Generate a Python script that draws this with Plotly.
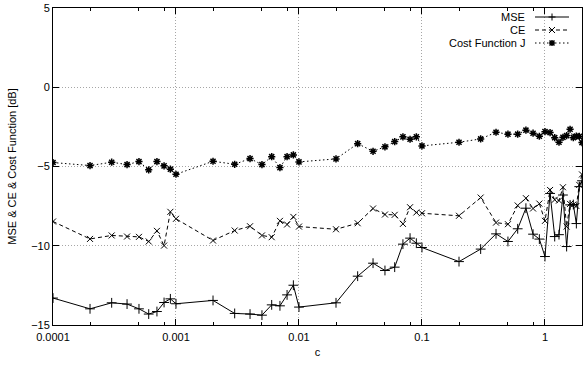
import plotly.graph_objects as go

# Sweep of the parameter c (log-spaced measurement points)
c_values = [
    0.0001, 0.0002, 0.0003, 0.0004, 0.0005, 0.0006, 0.0007, 0.0008, 0.0009,
    0.001, 0.002, 0.003, 0.004, 0.005, 0.006, 0.007, 0.008, 0.009,
    0.01, 0.02, 0.03, 0.04, 0.05, 0.06, 0.07, 0.08, 0.09,
    0.1, 0.2, 0.3, 0.4, 0.5, 0.6, 0.7, 0.8, 0.9,
    1.0, 1.1, 1.2, 1.3, 1.4, 1.5, 1.6, 1.7, 1.8, 1.9, 2.0,
]

mse_db = [
    -13.30, -13.98, -13.60, -13.68, -13.98, -14.31, -14.15, -13.58, -13.35,
    -13.66, -13.45, -14.27, -14.31, -14.38, -13.73, -13.79, -13.10, -12.49,
    -13.87, -13.60, -11.92, -11.10, -11.56, -11.35, -9.90, -9.52, -9.84,
    -10.11, -11.00, -10.21, -9.25, -9.73, -8.93, -7.63, -9.27, -9.58,
    -10.68, -6.70, -9.42, -9.30, -6.80, -10.05, -7.42, -7.40, -8.60, -6.27, -5.90,
]

ce_db = [
    -8.47, -9.57, -9.35, -9.42, -9.44, -9.73, -9.06, -9.99, -7.86,
    -8.30, -9.67, -9.04, -8.77, -9.35, -9.46, -8.43, -8.66, -8.18,
    -8.79, -8.96, -8.58, -7.65, -8.03, -8.05, -8.62, -7.57, -7.90,
    -7.95, -8.11, -6.96, -8.54, -8.64, -7.46, -7.00, -7.65, -7.34,
    -8.43, -6.48, -7.10, -7.15, -6.31, -8.79, -7.36, -7.40, -7.49, -6.16, -5.50,
]

cost_j_db = [
    -4.75, -4.94, -4.73, -4.88, -4.69, -5.21, -4.69, -4.96, -5.17,
    -5.49, -4.67, -4.86, -4.50, -4.88, -4.38, -5.07, -4.38, -4.27,
    -4.71, -4.52, -3.56, -4.04, -3.76, -3.43, -3.13, -3.28, -3.13,
    -3.70, -3.47, -3.26, -2.84, -2.96, -2.96, -2.71, -2.90, -3.09,
    -2.80, -2.86, -3.18, -3.47, -3.16, -3.05, -2.65, -3.18, -3.08, -3.10, -3.49,
]

x_major = [0.0001, 0.001, 0.01, 0.1, 1]
x_major_text = ["0.0001", "0.001", "0.01", "0.1", "1"]
x_minor = [0.0002, 0.0005, 0.0008, 0.002, 0.005, 0.008, 0.02, 0.05, 0.08,
           0.2, 0.5, 0.8, 2]
y_major = [-15, -10, -5, 0, 5]

series = [
    ("MSE", mse_db, "solid", "cross-thin", 1.0, 7),
    ("CE", ce_db, "4px,3px", "x-thin", 1.0, 6),
    ("Cost Function J", cost_j_db, "1.5px,2.5px", "asterisk", 1.5, 6),
]

FONT = "Liberation Sans, Arial, sans-serif"

fig = go.Figure()
for name, vals, dash, symbol, mw, ms in series:
    fig.add_trace(go.Scatter(
        x=c_values, y=vals, name=name, mode="lines+markers",
        line=dict(color="black", width=1, dash=dash),
        marker=dict(symbol=symbol, size=ms, color="black",
                    line=dict(color="black", width=mw)),
        showlegend=False,
    ))

# Plot-area geometry in pixels, used to place the key in paper units
L, R, T, B = 53, 582, 8, 325


def px_x(px):
    return (px - L) / (R - L)


def px_y(py):
    return (B - py) / (B - T)


# Key: label on the left, line sample with its point glyph on the right
glyph_paths = {
    "cross-thin": "M-3.5,0 L3.5,0 M0,-3.5 L0,3.5",
    "x-thin": "M-3,-3 L3,3 M-3,3 L3,-3",
    "asterisk": "M-3,0 L3,0 M0,-3 L0,3 M-2.5,-2.5 L2.5,2.5 M-2.5,2.5 L2.5,-2.5",
}
shapes = []
annotations = []
row_px = [17, 30, 43]
for (name, _, dash, symbol, mw, ms), ry in zip(series, row_px):
    annotations.append(dict(
        x=px_x(527), y=px_y(ry), xref="paper", yref="paper",
        text=name, showarrow=False, xanchor="right", yanchor="middle",
        font=dict(family=FONT, size=11, color="black"),
    ))
    shapes.append(dict(
        type="line", xref="paper", yref="paper",
        x0=px_x(535), x1=px_x(569), y0=px_y(ry), y1=px_y(ry),
        line=dict(color="black", width=1, dash=dash),
    ))
    shapes.append(dict(
        type="path", xref="paper", yref="paper",
        xsizemode="pixel", ysizemode="pixel",
        xanchor=px_x(552), yanchor=px_y(ry),
        path=glyph_paths[symbol],
        line=dict(color="black", width=mw),
    ))

grid = dict(showgrid=True, gridcolor="#a6a6a6", gridwidth=1,
            griddash="1px,2px")

fig.update_layout(
    width=583, height=365,
    margin=dict(l=L, r=583 - R, t=T, b=365 - B),
    paper_bgcolor="white", plot_bgcolor="white",
    font=dict(family=FONT, size=11, color="black"),
    shapes=shapes, annotations=annotations,
    xaxis=dict(
        type="log", range=[-4, 0.30103],
        tickmode="array", tickvals=x_major, ticktext=x_major_text,
        ticks="inside", ticklen=6, tickcolor="black",
        ticklabelstandoff=2,
        minor=dict(tickvals=x_minor, ticks="inside", ticklen=3,
                   tickcolor="black", showgrid=False),
        showline=True, linecolor="black", linewidth=1, mirror="allticks",
        title=dict(text="c", standoff=6, font=dict(size=11)),
        zeroline=False, **grid,
    ),
    yaxis=dict(
        range=[-15, 5], tickmode="array", tickvals=y_major,
        ticks="inside", ticklen=6, tickcolor="black",
        showline=True, linecolor="black", linewidth=1, mirror="allticks",
        title=dict(text="MSE & CE & Cost Function [dB]", standoff=12,
                   font=dict(size=11)),
        zeroline=False, **grid,
    ),
)

fig.write_html("out.html")
